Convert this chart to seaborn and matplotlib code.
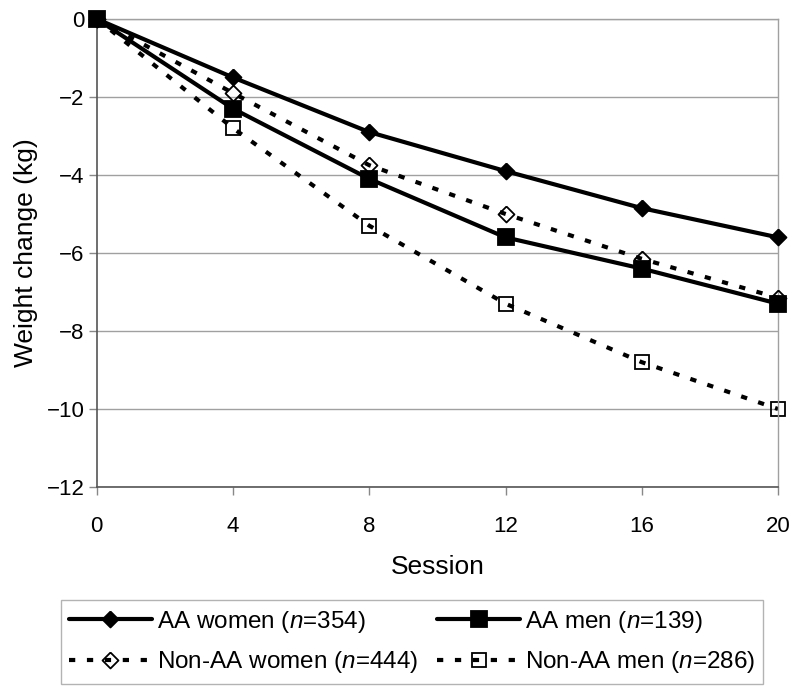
import pandas as pd
import matplotlib.pyplot as plt
import seaborn as sns

sessions = [0, 4, 8, 12, 16, 20]
aa_women = [0, -1.5, -2.9, -3.9, -4.85, -5.6]
aa_men = [0, -2.3, -4.1, -5.6, -6.4, -7.3]
non_aa_women = [0, -1.9, -3.75, -5.0, -6.15, -7.15]
non_aa_men = [0, -2.8, -5.3, -7.3, -8.8, -10.0]

labels = ["AA women ($n$=354)", "AA men ($n$=139)",
          "Non-AA women ($n$=444)", "Non-AA men ($n$=286)"]
series = [aa_women, aa_men, non_aa_women, non_aa_men]

sns.set_theme(style="white")
plt.rcParams['font.family'] = ['Liberation Sans', 'DejaVu Sans']
plt.rcParams['mathtext.fontset'] = 'custom'
plt.rcParams['mathtext.rm'] = 'Liberation Sans'
plt.rcParams['mathtext.it'] = 'Liberation Sans:italic'
plt.rcParams['text.color'] = 'black'
plt.rcParams['axes.labelcolor'] = 'black'
plt.rcParams['xtick.color'] = 'black'
plt.rcParams['ytick.color'] = 'black'

fig = plt.figure(figsize=(8, 6.93), dpi=100)
ax = fig.add_axes([0.121, 0.2973, 0.8515, 0.6753])

diamond = [(0, 1), (1, 0), (0, -1), (-1, 0), (0, 1)]

dash = (0, (1.5, 2.8))
styles = [
    dict(marker=diamond, ms=11.5, mfc='black', ls='-', z=4),
    dict(marker='s', ms=11, mfc='black', ls='-', z=5),
    dict(marker=diamond, ms=11.5, mfc='none', ls=dash, z=3),
    dict(marker='s', ms=10.5, mfc='none', ls=dash, z=2),
]

for lab, vals, st in zip(labels, series, styles):
    df = pd.DataFrame({'session': sessions, 'change': vals})
    sns.lineplot(data=df, x='session', y='change', ax=ax, color='black',
                 lw=3.0, marker=st['marker'], markersize=st['ms'],
                 markerfacecolor=st['mfc'], markeredgecolor='black',
                 markeredgewidth=1.3, linestyle=st['ls'], label=lab,
                 clip_on=False, zorder=st['z'])

ax.set_xlim(0, 20)
ax.set_ylim(-12, 0)
ax.set_xticks(sessions)
ax.set_yticks(range(-12, 1, 2))
ax.set_yticklabels(['\u221212', '\u221210', '\u22128', '\u22126', '\u22124', '\u22122', '0'])
ax.yaxis.grid(True, color='#a0a0a0', lw=1)
ax.set_axisbelow(True)
for s in ['top', 'right']:
    ax.spines[s].set_color('#a0a0a0')
    ax.spines[s].set_linewidth(1)
for s in ['left', 'bottom']:
    ax.spines[s].set_color('#555555')
    ax.spines[s].set_linewidth(1.2)
ax.tick_params(axis='both', which='both', direction='out', length=6,
               width=1, color='#888888', labelsize=16, left=True, bottom=True)
ax.tick_params(axis='x', pad=15)
ax.tick_params(axis='y', pad=3)
ax.set_xlabel('Session', fontsize=19, labelpad=13)
ax.set_ylabel('Weight change (kg)', fontsize=19, labelpad=6)

h, l = ax.get_legend_handles_labels()
order = [0, 2, 1, 3]
ax.legend([h[i] for i in order], [l[i] for i in order], ncol=2,
          loc='center', bbox_to_anchor=(0.515, 0.0736), bbox_transform=fig.transFigure,
          fontsize=17.5, frameon=True, fancybox=False, edgecolor='#a0a0a0',
          handlelength=3.4, columnspacing=0.8, borderpad=0.35, labelspacing=0.6,
          handletextpad=0.2, borderaxespad=0)

plt.savefig('out.png', dpi=100)
